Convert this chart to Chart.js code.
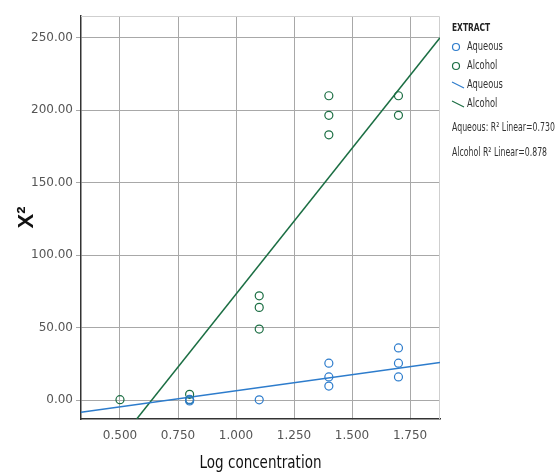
<!DOCTYPE html>
<html>
<head>
<meta charset="utf-8">
<script src="https://cdn.jsdelivr.net/npm/chart.js@4/dist/chart.umd.min.js"></script>
<style>
  html, body { margin: 0; padding: 0; background: #fff; }
  #wrap { width: 559px; height: 474px; }
</style>
</head>
<body>
<div id="wrap"><canvas id="chart" width="559" height="474"></canvas></div>
<script>
const aqueousX = [0.8, 0.8, 1.1, 1.4, 1.4, 1.4, 1.7, 1.7, 1.7];
const aqueousY = [-0.5, 0.5, 0.2, 25.5, 16, 9.7, 36, 25.5, 16];
const alcoholX = [0.5, 0.8, 0.8, 1.1, 1.1, 1.1, 1.4, 1.4, 1.4, 1.7, 1.7];
const alcoholY = [0.3, 4, 0.3, 72, 64, 49, 210, 196.5, 183, 210, 196.5];
// fit line end points
const aqueousFitX = [0.332, 1.879];
const aqueousFitY = [-8.3, 26];
const alcoholFitX = [0.572, 1.879];
const alcoholFitY = [-13, 250];
const xTicks = [0.5, 0.75, 1.0, 1.25, 1.5, 1.75];
const yTicks = [0, 50, 100, 150, 200, 250];
const legendNotes = ['Aqueous: R² Linear=0.730', 'Alcohol R² Linear=0.878'];

const blue = '#2d7ccc';
const green = '#1b6e43';
const font = "'DejaVu Sans', sans-serif";

function pts(xs, ys) {
    return xs.map((x, i) => ({ x: x, y: ys[i] }));
}

// squeezed text, the original uses a condensed face
function narrowText(ctx, text, x, y, squeeze) {
    ctx.save();
    ctx.translate(x, y);
    ctx.scale(squeeze, 1);
    ctx.fillText(text, 0, 0);
    ctx.restore();
}

const frame = {
    id: 'frame',
    beforeDatasetsDraw(chart) {
        const a = chart.chartArea, ctx = chart.ctx;
        ctx.save();
        ctx.strokeStyle = '#cfcfcf';
        ctx.lineWidth = 1;
        ctx.beginPath();
        ctx.moveTo(a.left, a.top + 0.5);
        ctx.lineTo(a.right - 0.5, a.top + 0.5);
        ctx.lineTo(a.right - 0.5, a.bottom);
        ctx.stroke();
        ctx.restore();
    }
};

const sideLegend = {
    id: 'sideLegend',
    afterDraw(chart) {
        const ctx = chart.ctx;
        const a = chart.chartArea;
        const x = 452;
        ctx.save();
        ctx.textBaseline = 'middle';
        ctx.fillStyle = '#222';
        ctx.font = 'bold 10px ' + font;
        narrowText(ctx, 'EXTRACT', x, 28, 0.75);
        ctx.font = '13px ' + font;
        const items = [
            { label: 'Aqueous', color: blue, kind: 'point', y: 47 },
            { label: 'Alcohol', color: green, kind: 'point', y: 66 },
            { label: 'Aqueous', color: blue, kind: 'line', y: 85 },
            { label: 'Alcohol', color: green, kind: 'line', y: 104 }
        ];
        items.forEach(it => {
            ctx.strokeStyle = it.color;
            ctx.lineWidth = 1.2;
            ctx.beginPath();
            if (it.kind === 'point') {
                ctx.arc(x + 4, it.y, 3.5, 0, Math.PI * 2);
            } else {
                ctx.moveTo(x, it.y - 3);
                ctx.lineTo(x + 12, it.y + 3);
            }
            ctx.stroke();
            ctx.fillStyle = '#333';
            narrowText(ctx, it.label, x + 15, it.y, 0.64);
        });
        narrowText(ctx, legendNotes[0], x, 128, 0.6);
        narrowText(ctx, legendNotes[1], x, 153, 0.6);

        // x axis title
        ctx.fillStyle = '#111';
        ctx.font = '18px ' + font;
        ctx.textAlign = 'center';
        narrowText(ctx, 'Log concentration', (a.left + a.right) / 2, 463, 0.75);
        ctx.restore();
    }
};

new Chart(document.getElementById('chart').getContext('2d'), {
    type: 'scatter',
    data: {
        datasets: [
            {
                label: 'Aqueous',
                data: pts(aqueousX, aqueousY),
                borderColor: blue,
                backgroundColor: 'rgba(0,0,0,0)',
                borderWidth: 1.2,
                pointRadius: 4,
                order: 1
            },
            {
                label: 'Alcohol',
                data: pts(alcoholX, alcoholY),
                borderColor: green,
                backgroundColor: 'rgba(0,0,0,0)',
                borderWidth: 1.2,
                pointRadius: 4,
                order: 1
            },
            {
                label: 'Aqueous fit',
                data: pts(aqueousFitX, aqueousFitY),
                showLine: true,
                borderColor: blue,
                borderWidth: 1.5,
                pointRadius: 0,
                order: 2
            },
            {
                label: 'Alcohol fit',
                data: pts(alcoholFitX, alcoholFitY),
                showLine: true,
                borderColor: green,
                borderWidth: 1.5,
                pointRadius: 0,
                order: 2
            }
        ]
    },
    options: {
        responsive: false,
        animation: false,
        layout: { padding: { left: 0, right: 119, top: 16, bottom: 0 } },
        plugins: {
            legend: { display: false },
            tooltip: { enabled: false }
        },
        scales: {
            x: {
                type: 'linear',
                min: 0.332,
                max: 1.879,
                afterBuildTicks: s => { s.ticks = xTicks.map(v => ({ value: v })); },
                afterFit: s => { s.height = 55; },
                ticks: {
                    color: '#555',
                    font: { family: font, size: 12 },
                    padding: 10,
                    maxRotation: 0,
                    callback: v => v.toFixed(3)
                },
                grid: { color: '#a8a8a8', tickLength: 0 },
                border: { color: '#333', width: 1.5 }
            },
            y: {
                type: 'linear',
                min: -13,
                max: 265,
                afterBuildTicks: s => { s.ticks = yTicks.map(v => ({ value: v })); },
                afterFit: s => { s.width = 81; },
                ticks: {
                    color: '#555',
                    font: { family: font, size: 12 },
                    padding: 3,
                    callback: v => v.toFixed(2)
                },
                grid: { color: '#a8a8a8', tickLength: 5 },
                border: { color: '#333', width: 1.5 },
                title: {
                    display: true,
                    text: 'X²',
                    color: '#111',
                    font: { family: "'Liberation Sans', sans-serif", size: 22, weight: 'bold' },
                    padding: { top: 14, bottom: 0 }
                }
            }
        }
    },
    plugins: [frame, sideLegend]
});
</script>
</body>
</html>
